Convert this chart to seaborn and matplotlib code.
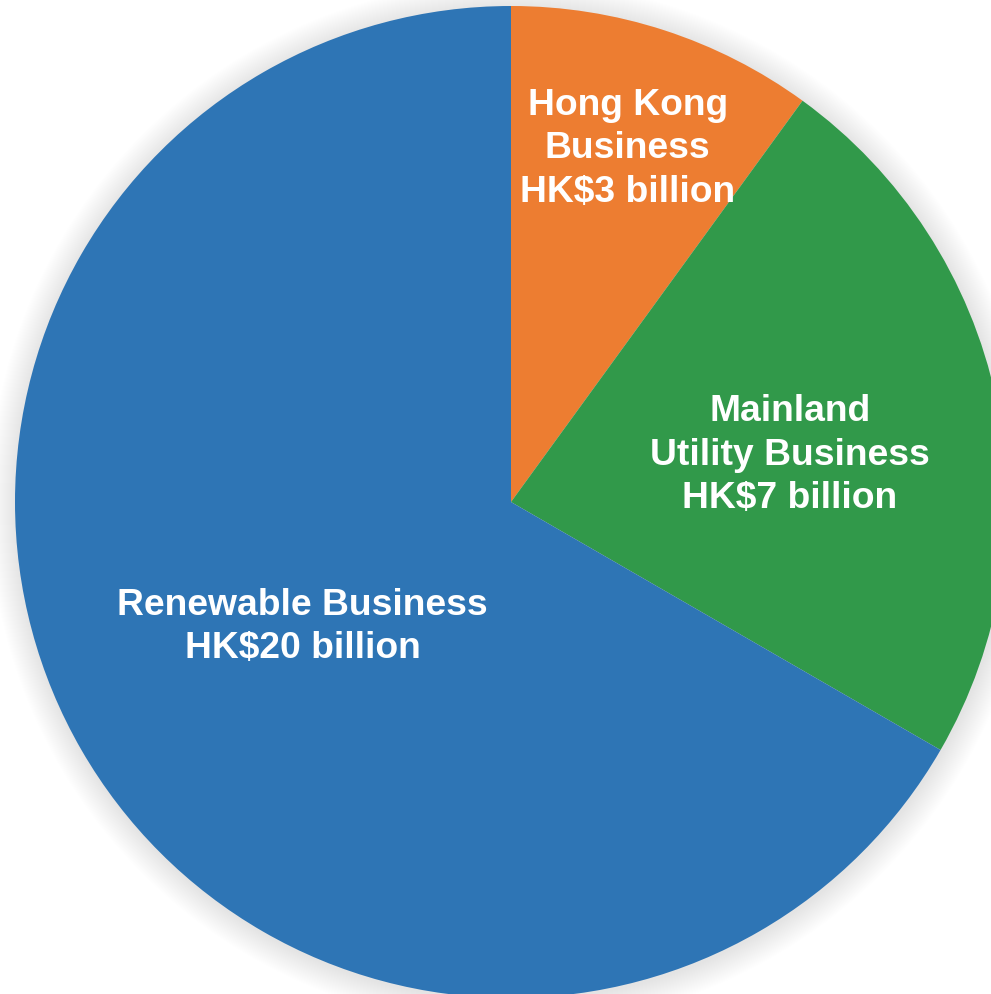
import numpy as np
import seaborn as sns
import matplotlib.pyplot as plt
from matplotlib.patches import Circle

segments = ['Hong Kong\nBusiness', 'Mainland\nUtility Business', 'Renewable Business']
values = [3, 7, 20]
value_labels = ['HK$3 billion', 'HK$7 billion', 'HK$20 billion']
colors = sns.color_palette(['#ED7D31', '#31994A', '#2E75B5'])

sns.set_style('white')
plt.rcParams['font.family'] = ['Liberation Sans', 'DejaVu Sans']

fig = plt.figure(figsize=(9.91, 9.94), dpi=100)
ax = fig.add_axes([0, 0, 1, 1])

center = (511, 492)
radius = 496

# soft glow around the pie
for k in range(1, 28):
    ax.add_patch(Circle((center[0] + 1, center[1] - 2), radius + k, color='black',
                        alpha=0.005, lw=0, zorder=0))

wedges, _ = ax.pie(values, colors=colors, startangle=90, counterclock=False,
                   center=center, radius=radius, frame=True,
                   wedgeprops=dict(linewidth=0, zorder=1))
ax.set_xlim(0, 991)
ax.set_ylim(0, 994)
ax.set_axis_off()

label_dist = [0.75, 0.57, 0.49]
label_shift = [-0.3, -2.5, 1.0]
for w, seg, vl, d, s in zip(wedges, segments, value_labels, label_dist, label_shift):
    ang = np.deg2rad((w.theta1 + w.theta2) / 2 + s)
    x = center[0] + d * radius * np.cos(ang)
    y = center[1] + d * radius * np.sin(ang)
    ax.text(x, y, seg + '\n' + vl, ha='center', va='center', color='white',
            fontsize=26.8, fontweight='bold', linespacing=1.32, zorder=3)

fig.savefig('out.png', dpi=100)
